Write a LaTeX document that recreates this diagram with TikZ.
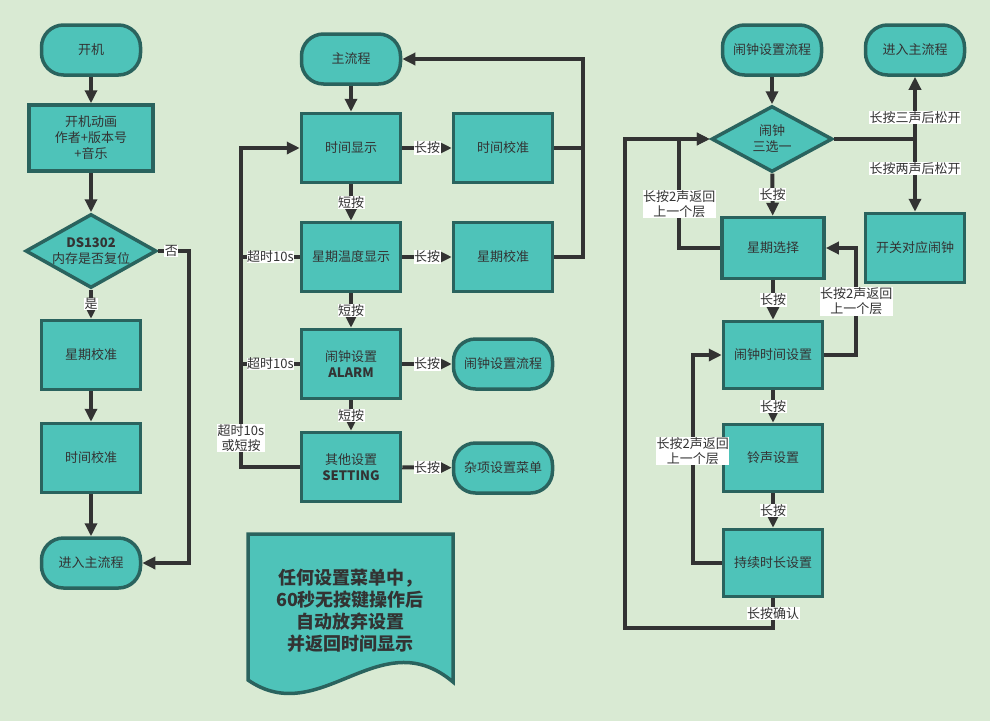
\documentclass[tikz,border=0pt]{standalone}
\usepackage{fontspec}
\setmainfont{Noto Sans CJK SC}
\usetikzlibrary{arrows.meta,shapes.geometric,calc}
\definecolor{bgcol}{RGB}{217,234,211}
\definecolor{boxfill}{RGB}{78,195,185}
\definecolor{boxline}{RGB}{42,99,94}
\definecolor{ink}{RGB}{51,51,51}
\def\bw{99}
\def\bh{69}

\begin{document}
\begin{tikzpicture}[x=1pt,y=-1pt,
  box/.style={draw=boxline,fill=boxfill,line width=3.5pt,text=ink,font=\fontsize{13}{16}\selectfont,
    align=center,minimum width=\bw pt,minimum height=\bh pt,inner sep=2pt},
  term/.style={box,rounded corners=22pt,minimum height=50pt},
  dec/.style={box,diamond,inner sep=0pt},
  line/.style={draw=ink,line width=4pt},
  arr/.style={line,-{Triangle[length=13pt,width=12pt]}},
  lbl/.style={fill=white,text=ink,inner sep=0.5pt,font=\fontsize{13}{15}\selectfont,align=center}]
\useasboundingbox (0,0) rectangle (990,721);
\fill[bgcol] (0,0) rectangle (990,721);

% start-up
\node[term] (kj) at (91,50) {开机};
\node[box,minimum width=124pt,minimum height=66pt] (kjdh) at (91,138) {开机动画\\作者+版本号\\+音乐};
\node[dec,minimum width=131pt,minimum height=74pt,aspect=1.77] (ds) at (91,251) {\textbf{DS1302}\\内存是否复位};
\node[box] (xq1) at (91,355) {星期校准};
\node[box] (sj1) at (91,458) {时间校准};
\node[term] (zlc1) at (91,563) {进入主流程};

\draw[arr] (kj) -- (kjdh);
\draw[arr] (kjdh) -- (ds);
\draw[arr] (ds) -- node[lbl]{是} (xq1);
\draw[arr] (xq1) -- (sj1);
\draw[arr] (sj1) -- (zlc1);
\draw[arr] (ds.east) -- node[lbl,pos=0.42]{否} ++(31,0) |- (zlc1.east);

% main flow
\node[term] (main) at (351,59) {主流程};
\node[box] (sjxs) at (351,148) {时间显示};
\node[box] (xqwd) at (351,257) {星期温度显示};
\node[box] (nzsz) at (351,364) {闹钟设置\\\textbf{ALARM}};
\node[box] (qtsz) at (351,467) {其他设置\\\textbf{SETTING}};
\node[box] (sjjz) at (503,148) {时间校准};
\node[box] (xqjz) at (503,257) {星期校准};
\node[term] (nzlc1) at (503,364) {闹钟设置流程};
\node[term] (zxcd) at (503,468) {杂项设置菜单};
\coordinate (rtop) at (583,59);
\coordinate (lft) at (241,148);

\draw[arr] (main) -- (sjxs);
\draw[arr] (sjxs) -- node[lbl]{短按} (xqwd);
\draw[arr] (xqwd) -- node[lbl]{短按} (nzsz);
\draw[arr] (nzsz) -- node[lbl]{短按} (qtsz);
\draw[arr] (sjxs) -- node[lbl]{长按} (sjjz);
\draw[arr] (xqwd) -- node[lbl]{长按} (xqjz);
\draw[arr] (nzsz) -- node[lbl]{长按} (nzlc1);
\draw[arr] (qtsz) -- node[lbl]{长按} (zxcd);
\draw[line] (sjjz.east) -- (sjjz.east -| rtop);
\draw[arr] (xqjz.east) -| (rtop) -- (main.east);
\draw[line] (xqwd.west) -- node[lbl]{超时10s} (xqwd.west -| lft);
\draw[line] (nzsz.west) -- node[lbl]{超时10s} (nzsz.west -| lft);
\draw[arr] (qtsz.west) -| node[lbl,pos=0.545]{超时10s\\或短按} (lft) -- (sjxs.west);

% note
\draw[draw=boxline,fill=boxfill,line width=3.5pt] (248,534) -- (453,534) -- (453,682)
  .. controls (380,620) and (320,730) .. (248,680) -- cycle;
\node[text=ink,font=\fontsize{18}{22}\selectfont\bfseries,align=center] (note) at (350,611)
  {任何设置菜单中，\\60秒无按键操作后\\自动放弃设置\\并返回时间显示};

% alarm setting
\node[term] (nzlc2) at (772,50) {闹钟设置流程};
\node[term] (zlc2) at (915,50) {进入主流程};
\node[dec,minimum width=121pt,minimum height=66pt,aspect=1.8] (nz) at (772,139) {闹钟\\三选一};
\node[box,minimum width=102pt,minimum height=61pt] (xqxz) at (773,248) {星期选择};
\node[box] (kgnz) at (915,248) {开关对应闹钟};
\node[box,minimum height=67pt] (nzsj) at (773,355) {闹钟时间设置};
\node[box,minimum height=67pt] (lssz) at (773,458) {铃声设置};
\node[box,minimum height=67pt] (cxsc) at (773,563) {持续时长设置};
\coordinate (jct) at (915,139);

\draw[arr] (nzlc2) -- (nz);
\draw[line] (nz.east) -- (jct);
\draw[arr] (jct) -- node[lbl,pos=0.35]{长按三声后松开} (zlc2);
\draw[arr] (jct) -- node[lbl,pos=0.4]{长按两声后松开} (kgnz);
\draw[arr] (nz) -- node[lbl]{长按} (xqxz);
\draw[arr] (xqxz) -- node[lbl]{长按} (nzsj);
\draw[arr] (nzsj) -- node[lbl]{长按} (lssz);
\draw[arr] (lssz) -- node[lbl]{长按} (cxsc);
\draw[arr] (xqxz.west) -- ++(-41,0) |- node[lbl,pos=0.2]{长按2声返回\\上一个层} (nz.west);
\draw[arr] (nzsj.east) -- ++(32,0) |- node[lbl,pos=0.25]{长按2声返回\\上一个层} (xqxz.east);
\draw[line] (lssz.west) -- ++(-29,0);
\draw[arr] (cxsc.west) -- ++(-29,0) |- node[lbl,pos=0.27]{长按2声返回\\上一个层} (nzsj.west);
\draw[arr] (cxsc.south) -- node[lbl]{长按确认} ++(0,30) -| ($(nz.west)+(-85,0)$) -- (nz.west);
\end{tikzpicture}
\end{document}
